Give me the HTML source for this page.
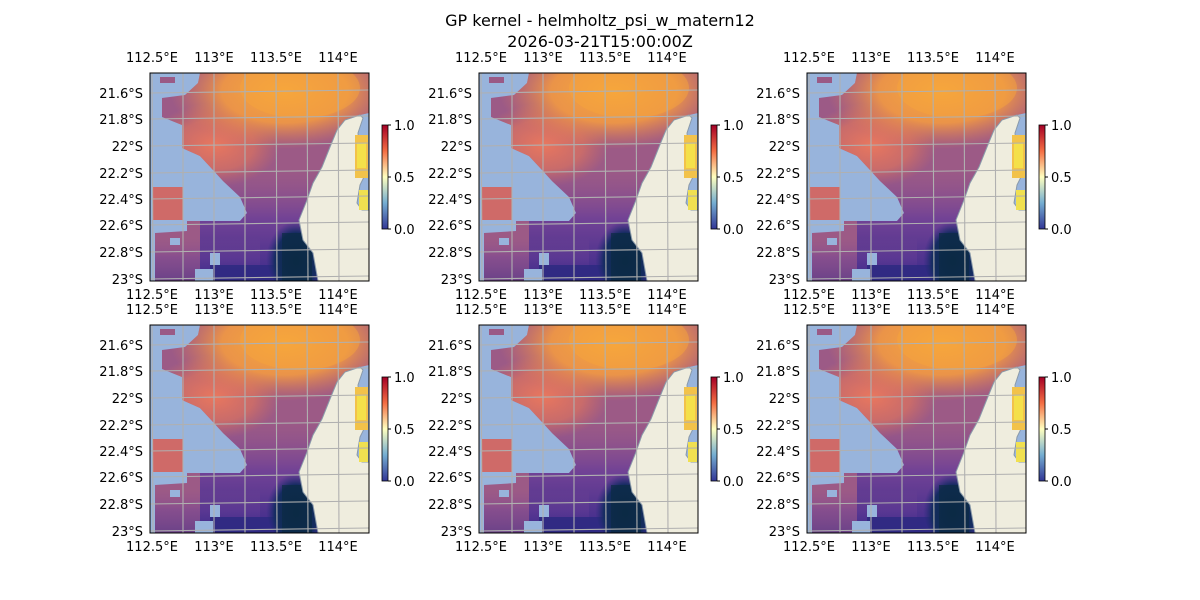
<!DOCTYPE html>
<html><head><meta charset="utf-8"><style>
body{margin:0;background:#fff}
svg{display:block}
text{font-family:"DejaVu Sans","Liberation Sans",sans-serif;font-size:13px;fill:#000}
.t{text-anchor:middle}
.l{text-anchor:end}
</style></head><body>
<svg width="1200" height="600" viewBox="0 0 1200 600" xmlns="http://www.w3.org/2000/svg">
<defs>
<clipPath id="dc"><polygon points="50,0 219,0 219,40 210,42 195,47 187,57 180,74 172,94 163,110 157,127 149,147 153,167 163,180 168,208 5,208 5,160 37,158 37,148 90,148 97,140 90,124 73,108 63,97 50,83 32,75 32,52 12,44 12,25 35,22 48,10"/></clipPath>
<radialGradient id="og" cx="0.5" cy="0.5" r="0.5"><stop offset="0" stop-color="#f7a93c" stop-opacity="1"/><stop offset="0.55" stop-color="#f39a42" stop-opacity="0.9"/><stop offset="1" stop-color="#e07a58" stop-opacity="0"/></radialGradient>
<linearGradient id="bg" x1="0" y1="0" x2="0" y2="1"><stop offset="0" stop-color="#8a5090" stop-opacity="0"/><stop offset="0.45" stop-color="#6a3e98" stop-opacity="0.85"/><stop offset="1" stop-color="#3a2a8a"/></linearGradient>
<radialGradient id="rg" cx="0.5" cy="0.5" r="0.5"><stop offset="0" stop-color="#e9775e"/><stop offset="0.6" stop-color="#dc735f" stop-opacity="0.7"/><stop offset="1" stop-color="#d2705e" stop-opacity="0"/></radialGradient>
<linearGradient id="cb" x1="0" y1="1" x2="0" y2="0"><stop offset="0" stop-color="#313695"/><stop offset="0.25" stop-color="#74add1"/><stop offset="0.5" stop-color="#ffffbf"/><stop offset="0.75" stop-color="#f46d43"/><stop offset="1" stop-color="#a50026"/></linearGradient>
<radialGradient id="ng" cx="0.5" cy="0.6" r="0.5"><stop offset="0" stop-color="#0c2b45"/><stop offset="0.7" stop-color="#142c60"/><stop offset="1" stop-color="#2c2a80" stop-opacity="0"/></radialGradient>
<g id="map">
<rect x="0" y="0" width="219" height="208" fill="#98b4dc"/>
<rect x="10" y="4" width="15" height="6" fill="#9a5a86"/>
<rect x="3" y="114" width="30" height="33" fill="#cf6a68"/>
<g clip-path="url(#dc)">
<rect x="0" y="0" width="219" height="208" fill="#9c5a86"/>
<ellipse cx="65" cy="72" rx="65" ry="42" fill="url(#rg)"/>
<ellipse cx="135" cy="18" rx="115" ry="58" fill="url(#og)"/>
<ellipse cx="150" cy="15" rx="60" ry="30" fill="#f5a43c" opacity="0.5"/>
<rect x="50" y="95" width="120" height="113" fill="url(#bg)"/>
<rect x="0" y="165" width="110" height="43" fill="url(#bg)" opacity="0.5"/>
<rect x="60" y="192" width="100" height="16" fill="#2f2a82" opacity="0.9"/>
<ellipse cx="146" cy="180" rx="30" ry="40" fill="url(#ng)"/>
<rect x="132" y="160" width="30" height="48" fill="#0c2b45" opacity="0.7"/>
<rect x="60" y="180" width="10" height="12" fill="#98b4dc"/>
<rect x="20" y="165" width="10" height="7" fill="#98b4dc"/>
<rect x="45" y="196" width="18" height="12" fill="#98b4dc"/>
</g>
<polygon points="210,42 195,47 187,57 180,74 172,94 163,110 157,127 149,147 153,167 163,180 168,208 219,208 219,137 212,137 207,130 210,112 215,102 210,82 208,60 213,45" fill="#efedde" stroke="#8a9aaa" stroke-width="1"/>
<rect x="205" y="62" width="13" height="43" fill="#f2c24a"/>
<rect x="207" y="70" width="9" height="25" fill="#f4e04a"/>
<rect x="209" y="117" width="9" height="20" fill="#f0e050"/>
<g stroke="#b0b0b0" stroke-width="1.1" fill="none">
<line x1="2" y1="0" x2="3" y2="208"/><line x1="33" y1="0" x2="33" y2="208"/><line x1="64" y1="0" x2="64" y2="208"/><line x1="95" y1="0" x2="95" y2="208"/><line x1="126" y1="0" x2="127" y2="208"/><line x1="157" y1="0" x2="158" y2="208"/><line x1="188" y1="0" x2="189" y2="208"/>
<line x1="0" y1="20" x2="219" y2="17"/><line x1="0" y1="46" x2="219" y2="43"/><line x1="0" y1="73" x2="219" y2="70"/><line x1="0" y1="100" x2="219" y2="97"/><line x1="0" y1="126" x2="219" y2="123"/><line x1="0" y1="152" x2="219" y2="149"/><line x1="0" y1="179" x2="219" y2="176"/><line x1="0" y1="206" x2="219" y2="203"/>
</g>
<rect x="0" y="0" width="219" height="208" fill="none" stroke="#000" stroke-width="1"/>
<rect x="232" y="52" width="6" height="104" fill="url(#cb)" stroke="#000" stroke-width="0.8"/>
<g stroke="#000"><line x1="238" y1="52" x2="241" y2="52"/><line x1="238" y1="104" x2="241" y2="104"/><line x1="238" y1="156" x2="241" y2="156"/></g>
</g>
</defs>
<text class="t" x="600" y="26" style="font-size:16px">GP kernel - helmholtz_psi_w_matern12</text>
<text class="t" x="600" y="47" style="font-size:16px">2026-03-21T15:00:00Z</text>

<g transform="translate(150,73)"><use href="#map"/>
<text class="t" x="2" y="-11">112.5°E</text><text class="t" x="64" y="-11">113°E</text><text class="t" x="126" y="-11">113.5°E</text><text class="t" x="188" y="-11">114°E</text>
<text class="t" x="2" y="226">112.5°E</text><text class="t" x="64" y="226">113°E</text><text class="t" x="126" y="226">113.5°E</text><text class="t" x="188" y="226">114°E</text>
<text class="l" x="-7" y="25">21.6°S</text><text class="l" x="-7" y="51">21.8°S</text><text class="l" x="-7" y="78">22°S</text><text class="l" x="-7" y="105">22.2°S</text><text class="l" x="-7" y="131">22.4°S</text><text class="l" x="-7" y="157">22.6°S</text><text class="l" x="-7" y="184">22.8°S</text><text class="l" x="-7" y="211">23°S</text>
<text x="244" y="57">1.0</text><text x="244" y="109">0.5</text><text x="244" y="161">0.0</text></g>

<g transform="translate(479,73)"><use href="#map"/>
<text class="t" x="2" y="-11">112.5°E</text><text class="t" x="64" y="-11">113°E</text><text class="t" x="126" y="-11">113.5°E</text><text class="t" x="188" y="-11">114°E</text>
<text class="t" x="2" y="226">112.5°E</text><text class="t" x="64" y="226">113°E</text><text class="t" x="126" y="226">113.5°E</text><text class="t" x="188" y="226">114°E</text>
<text class="l" x="-7" y="25">21.6°S</text><text class="l" x="-7" y="51">21.8°S</text><text class="l" x="-7" y="78">22°S</text><text class="l" x="-7" y="105">22.2°S</text><text class="l" x="-7" y="131">22.4°S</text><text class="l" x="-7" y="157">22.6°S</text><text class="l" x="-7" y="184">22.8°S</text><text class="l" x="-7" y="211">23°S</text>
<text x="244" y="57">1.0</text><text x="244" y="109">0.5</text><text x="244" y="161">0.0</text></g>

<g transform="translate(807,73)"><use href="#map"/>
<text class="t" x="2" y="-11">112.5°E</text><text class="t" x="64" y="-11">113°E</text><text class="t" x="126" y="-11">113.5°E</text><text class="t" x="188" y="-11">114°E</text>
<text class="t" x="2" y="226">112.5°E</text><text class="t" x="64" y="226">113°E</text><text class="t" x="126" y="226">113.5°E</text><text class="t" x="188" y="226">114°E</text>
<text class="l" x="-7" y="25">21.6°S</text><text class="l" x="-7" y="51">21.8°S</text><text class="l" x="-7" y="78">22°S</text><text class="l" x="-7" y="105">22.2°S</text><text class="l" x="-7" y="131">22.4°S</text><text class="l" x="-7" y="157">22.6°S</text><text class="l" x="-7" y="184">22.8°S</text><text class="l" x="-7" y="211">23°S</text>
<text x="244" y="57">1.0</text><text x="244" y="109">0.5</text><text x="244" y="161">0.0</text></g>

<g transform="translate(150,325)"><use href="#map"/>
<text class="t" x="2" y="-11">112.5°E</text><text class="t" x="64" y="-11">113°E</text><text class="t" x="126" y="-11">113.5°E</text><text class="t" x="188" y="-11">114°E</text>
<text class="t" x="2" y="226">112.5°E</text><text class="t" x="64" y="226">113°E</text><text class="t" x="126" y="226">113.5°E</text><text class="t" x="188" y="226">114°E</text>
<text class="l" x="-7" y="25">21.6°S</text><text class="l" x="-7" y="51">21.8°S</text><text class="l" x="-7" y="78">22°S</text><text class="l" x="-7" y="105">22.2°S</text><text class="l" x="-7" y="131">22.4°S</text><text class="l" x="-7" y="157">22.6°S</text><text class="l" x="-7" y="184">22.8°S</text><text class="l" x="-7" y="211">23°S</text>
<text x="244" y="57">1.0</text><text x="244" y="109">0.5</text><text x="244" y="161">0.0</text></g>

<g transform="translate(479,325)"><use href="#map"/>
<text class="t" x="2" y="-11">112.5°E</text><text class="t" x="64" y="-11">113°E</text><text class="t" x="126" y="-11">113.5°E</text><text class="t" x="188" y="-11">114°E</text>
<text class="t" x="2" y="226">112.5°E</text><text class="t" x="64" y="226">113°E</text><text class="t" x="126" y="226">113.5°E</text><text class="t" x="188" y="226">114°E</text>
<text class="l" x="-7" y="25">21.6°S</text><text class="l" x="-7" y="51">21.8°S</text><text class="l" x="-7" y="78">22°S</text><text class="l" x="-7" y="105">22.2°S</text><text class="l" x="-7" y="131">22.4°S</text><text class="l" x="-7" y="157">22.6°S</text><text class="l" x="-7" y="184">22.8°S</text><text class="l" x="-7" y="211">23°S</text>
<text x="244" y="57">1.0</text><text x="244" y="109">0.5</text><text x="244" y="161">0.0</text></g>

<g transform="translate(807,325)"><use href="#map"/>
<text class="t" x="2" y="-11">112.5°E</text><text class="t" x="64" y="-11">113°E</text><text class="t" x="126" y="-11">113.5°E</text><text class="t" x="188" y="-11">114°E</text>
<text class="t" x="2" y="226">112.5°E</text><text class="t" x="64" y="226">113°E</text><text class="t" x="126" y="226">113.5°E</text><text class="t" x="188" y="226">114°E</text>
<text class="l" x="-7" y="25">21.6°S</text><text class="l" x="-7" y="51">21.8°S</text><text class="l" x="-7" y="78">22°S</text><text class="l" x="-7" y="105">22.2°S</text><text class="l" x="-7" y="131">22.4°S</text><text class="l" x="-7" y="157">22.6°S</text><text class="l" x="-7" y="184">22.8°S</text><text class="l" x="-7" y="211">23°S</text>
<text x="244" y="57">1.0</text><text x="244" y="109">0.5</text><text x="244" y="161">0.0</text></g>
</svg>
</body></html>
